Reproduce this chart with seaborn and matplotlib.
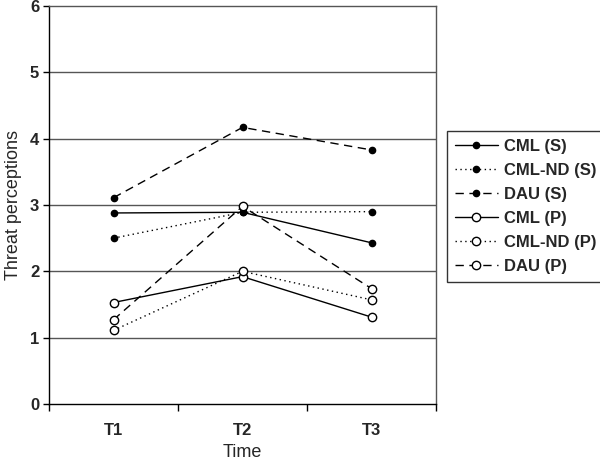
import matplotlib
matplotlib.use("Agg")
import matplotlib.pyplot as plt
import seaborn as sns
import pandas as pd

times = ["T1", "T2", "T3"]
series_names = ["CML (S)", "CML-ND (S)", "DAU (S)", "CML (P)", "CML-ND (P)", "DAU (P)"]
cml_s = [2.88, 2.89, 2.43]
cmlnd_s = [2.50, 2.89, 2.90]
dau_s = [3.11, 4.17, 3.83]
cml_p = [1.53, 1.92, 1.31]
cmlnd_p = [1.11, 2.00, 1.57]
dau_p = [1.27, 2.98, 1.74]
values = [cml_s, cmlnd_s, dau_s, cml_p, cmlnd_p, dau_p]

sns.set_theme(style="white")
plt.rcParams['font.family'] = ['Liberation Sans', 'DejaVu Sans']

fig = plt.figure(figsize=(6, 4.65), dpi=100)
ax = fig.add_axes([49/600, 1-404/465, (436-49)/600, (404-6)/465])

styles = {
    "CML (S)": ("-", "black", 4.5),
    "CML-ND (S)": ((0, (1, 2.5)), "black", 4.5),
    "DAU (S)": ((0, (6, 4)), "black", 4.5),
    "CML (P)": ("-", "white", 6),
    "CML-ND (P)": ((0, (1, 2.5)), "white", 6),
    "DAU (P)": ((0, (6, 4)), "white", 6),
}

for y in range(1, 6):
    ax.axhline(y, color="#555555", lw=1.0, zorder=0)

for name, vals in zip(series_names, values):
    df = pd.DataFrame({"Time": times, "Value": vals})
    ls, fc, ms = styles[name]
    sns.lineplot(data=df, x="Time", y="Value", ax=ax, color="black",
                 linestyle=ls, lw=1.0, marker="o", markersize=ms,
                 markerfacecolor=fc, markeredgecolor="black",
                 markeredgewidth=1.0, label=name, sort=False)

ax.set_xlim(-0.5, 2.5)
ax.set_ylim(0, 6)
ax.set_yticks(range(0, 7))
ax.set_yticklabels([str(i) for i in range(7)], fontweight="bold", fontsize=12)
ax.set_xticks([0, 1, 2])
ax.set_xticklabels(times, fontweight="bold", fontsize=12)
ax.set_xticks([-0.5, 0.5, 1.5, 2.5], minor=True)
ax.tick_params(axis="x", which="major", length=0, pad=14)
ax.tick_params(axis="x", which="minor", length=5, width=1, color="black", direction="out", bottom=True)
ax.tick_params(axis="y", which="major", length=4, width=1, color="black", direction="out", left=True, pad=3)

ax.set_xlabel("Time", fontsize=13, labelpad=4)
ax.set_ylabel("Threat perceptions", fontsize=13, labelpad=6)

for s in ["left", "bottom"]:
    ax.spines[s].set_color("black")
    ax.spines[s].set_linewidth(1.0)
for s in ["top", "right"]:
    ax.spines[s].set_color("#555555")
    ax.spines[s].set_linewidth(1.0)

leg = ax.legend(loc="upper left", bbox_to_anchor=(447/600, 1-131/465),
                bbox_transform=fig.transFigure, frameon=True, fancybox=False,
                edgecolor="black", handlelength=2.6, borderaxespad=0,
                labelspacing=0.55, borderpad=0.45, handletextpad=0.4,
                prop={"weight": "bold", "size": 12})
leg.get_frame().set_linewidth(1.0)

fig.savefig("out.png", dpi=100)
